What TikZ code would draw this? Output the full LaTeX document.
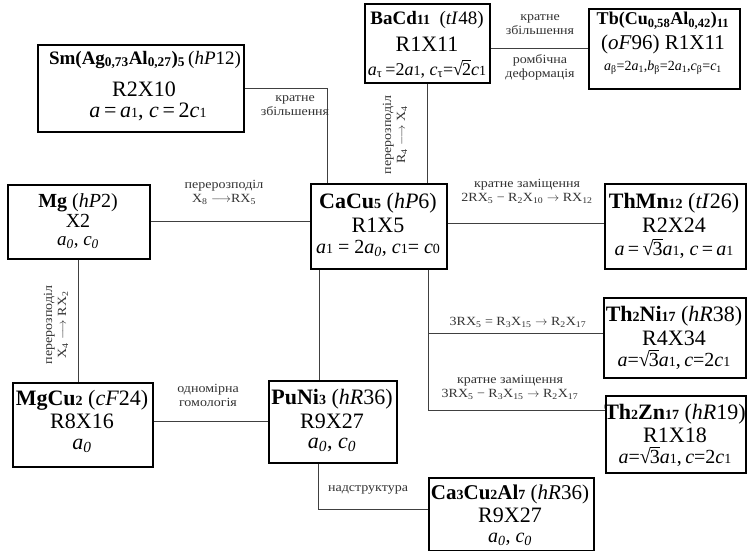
\documentclass[tikz,border=0pt]{standalone}
\usepackage{fix-cm}
\usepackage{fontspec}
\setmainfont{Liberation Serif}
\newfontfamily\lblfont{Liberation Serif}[FakeStretch=1.12]
\newcommand\sd[1]{{\fontsize{14}{14}\selectfont #1}}
\newcommand\ssb[1]{\textsubscript{#1}}
\newcommand\rt[1]{\mbox{√\kern-0.05em\setbox0\hbox{#1}\rlap{\rule[0.79em]{\wd0}{0.05em}}\box0}}
\newcommand\ia{\textit{a}}
\newcommand\ic{\textit{c}}
\tikzset{
  box/.style={draw=black, line width=1.6pt, inner sep=0pt, anchor=north west},
  conn/.style={draw=black!75, line width=0.9pt},
  lbl/.style={font=\lblfont\fontsize{12.5}{14}\selectfont, align=center, text=black!80, inner sep=0pt},
  tt/.style={font=\fontsize{22}{22}\selectfont, inner sep=0pt},
  tf/.style={font=\fontsize{20}{20}\selectfont, inner sep=0pt},
}
\begin{document}
\begin{tikzpicture}[x=1pt,y=-1pt]
\useasboundingbox (0,0) rectangle (747,551);
% boxes
\node[box, minimum width=206pt, minimum height=87pt] (sm) at (37,44) {};
\node[box, minimum width=125pt, minimum height=79pt] (bacd) at (364,3) {};
\node[box, minimum width=151pt, minimum height=80pt] (tb) at (588,8) {};
\node[box, minimum width=142pt, minimum height=74pt] (mg) at (7,184) {};
\node[box, minimum width=136pt, minimum height=85pt] (cacu) at (310,183) {};
\node[box, minimum width=141pt, minimum height=85pt] (thmn) at (604,183) {};
\node[box, minimum width=142pt, minimum height=80pt] (thni) at (603,297) {};
\node[box, minimum width=140pt, minimum height=77pt] (thzn) at (605,395) {};
\node[box, minimum width=140pt, minimum height=84pt] (mgcu) at (12,382) {};
\node[box, minimum width=128pt, minimum height=82pt] (puni) at (268,380) {};
\node[box, minimum width=165pt, minimum height=73pt] (ca) at (428,477) {};
% box texts
\node[font=\fontsize{19}{19}\selectfont, inner sep=0pt] (smA) at (145,60) {{\bfseries Sm(Ag\ssb{0,73}Al\ssb{0,27})\ssb{5}}\,(\textit{hP}12)};
\node[tt] (smB) at (144,89) {R2X10};
\node[tt] (smC) at (148,112) {\ia\,=\,\ia\sd{1}, \ic\,=\,2\ic\sd{1}};

\node[font=\fontsize{19}{19}\selectfont, inner sep=0pt] (bacdA) at (427,20) {{\bfseries BaCd\sd{11}}\ \ (\textit{tI}48)};
\node[tt] (bacdB) at (427,44) {R1X11};
\node[font=\fontsize{18}{18}\selectfont, inner sep=0pt] (bacdC) at (427,69) {\ia\ssb{τ}\,=2\ia\sd{1}, \ic\ssb{τ}=\rt{2}\ic\sd{1}};

\node[font=\fontsize{18}{18}\selectfont, inner sep=0pt] (tbA) at (663,21) {\bfseries Tb(Cu\ssb{0,58}Al\ssb{0,42})\ssb{11}};
\node[font=\fontsize{21}{21}\selectfont, inner sep=0pt] (tbB) at (663,44) {(\textit{oF}96)\ R1X11};
\node[font=\fontsize{14}{14}\selectfont, inner sep=0pt] (tbC) at (663,68) {\ia\ssb{β}=2\ia\ssb{1},\textit{b}\ssb{β}=2\ia\ssb{1},\ic\ssb{β}=\ic\ssb{1}};

\node[tf] (mgA) at (78,203) {{\bfseries Mg} (\textit{hP}2)};
\node[tf] (mgB) at (78,221) {X2};
\node[font=\fontsize{19}{19}\selectfont, inner sep=0pt] (mgC) at (78,243) {\ia\ssb{\textit{0}}, \ic\ssb{\textit{0}}};

\node[tt] (cacuA) at (378,203) {{\bfseries CaCu\sd{5}} (\textit{hP}6)};
\node[tt] (cacuB) at (378,225) {R1X5};
\node[tf] (cacuC) at (378,248) {\ia\sd{1} = 2\ia\ssb{\textit{0}}, \ic\sd{1}= \ic\sd{0}};

\node[tt] (thmnA) at (674,203) {{\bfseries ThMn\sd{12}} (\textit{tI}26)};
\node[tt] (thmnB) at (674,225) {R2X24};
\node[tf] (thmnC) at (674,249) {\ia\,=\,\rt{3}\ia\sd{1}, \ic\,=\,\ia\sd{1}};

\node[tt] (thniA) at (674,316) {{\bfseries Th\sd{2}Ni\sd{17}} (\textit{hR}38)};
\node[tt] (thniB) at (674,338) {R4X34};
\node[tf] (thniC) at (674,360) {\ia=\rt{3}\ia\sd{1},\,\ic=2\ic\sd{1}};

\node[tt] (thznA) at (675,414) {{\bfseries Th\sd{2}Zn\sd{17}} (\textit{hR}19)};
\node[tt] (thznB) at (675,435) {R1X18};
\node[tf] (thznC) at (675,457) {\ia=\rt{3}\ia\sd{1},\,\ic=2\ic\sd{1}};

\node[tt] (mgcuA) at (82,400) {{\bfseries MgCu\sd{2}} (\textit{cF}24)};
\node[tt] (mgcuB) at (82,421) {R8X16};
\node[tt] (mgcuC) at (82,446) {\ia\ssb{\textit{0}}};

\node[tt] (puniA) at (332,399) {{\bfseries PuNi\sd{3}} (\textit{hR}36)};
\node[tt] (puniB) at (332,421) {R9X27};
\node[tt] (puniC) at (332,445) {\ia\ssb{\textit{0}}, \ic\ssb{\textit{0}}};

\node[font=\fontsize{21}{21}\selectfont, inner sep=0pt] (caA) at (510,494) {{\bfseries Ca\sd{3}Cu\sd{2}Al\sd{7}} (\textit{hR}36)};
\node[tt] (caB) at (510,515) {R9X27};
\node[tf] (caC) at (510,539) {\ia\ssb{\textit{0}}, \ic\ssb{\textit{0}}};

% connectors
\draw[conn] (sm.east) -| ([xshift=-51pt]cacu.north);
\draw[conn] (bacd.south) -- (bacd.south |- cacu.north);
\draw[conn] (tb.west -| bacd.east) -- (tb.west);
\draw[conn] (mg.east) -- (mg.east -| cacu.west);
\draw[conn] ([yshift=3pt]cacu.east) -- ([yshift=3pt]thmn.west);
\coordinate (br) at (428,410);
\draw[conn] (br |- cacu.south) -- (br) -- (br -| thzn.west);
\draw[conn] ([yshift=4pt]br |- thni.west) -- ([yshift=4pt]thni.west);
\draw[conn] (mg.south) -- (mg.south |- mgcu.north);
\draw[conn] (mgcu.east |- puni.west) -- (puni.west);
\draw[conn] ([xshift=-13pt]puni.north) -- ([xshift=-13pt]puni.north |- cacu.south);
\draw[conn] ([xshift=-14pt]puni.south) |- ([yshift=5pt]ca.west);

% labels
\node[lbl] (l1) at (295,106) {кратне\\збільшення};
\node[lbl, rotate=90] (l2) at (395,135) {перерозподіл\\R\ssb{4} $\longrightarrow$ X\ssb{4}};
\node[lbl] (l3) at (540,25) {кратне\\збільшення};
\node[lbl] (l4) at (540,67) {ромбічна\\деформація};
\node[lbl] (l5) at (224,192) {перерозподіл\\X\ssb{8} $\longrightarrow$RX\ssb{5}};
\node[lbl] (l6) at (527,191) {кратне заміщення\\2RX\ssb{5} − R\ssb{2}X\ssb{10} $\rightarrow$ RX\ssb{12}};
\node[lbl] (l7) at (518,322) {3RX\ssb{5} = R\ssb{3}X\ssb{15} $\rightarrow$ R\ssb{2}X\ssb{17}};
\node[lbl] (l8) at (510,387) {кратне заміщення\\3RX\ssb{5} − R\ssb{3}X\ssb{15} $\rightarrow$ R\ssb{2}X\ssb{17}};
\node[lbl, rotate=90] (l9) at (56,325) {перерозподіл\\X\ssb{4} $\longrightarrow$ RX\ssb{2}};
\node[lbl] (l10) at (208,395) {одномірна\\гомологія};
\node[lbl] (l11) at (368,490) {надструктура};
\end{tikzpicture}
\end{document}
